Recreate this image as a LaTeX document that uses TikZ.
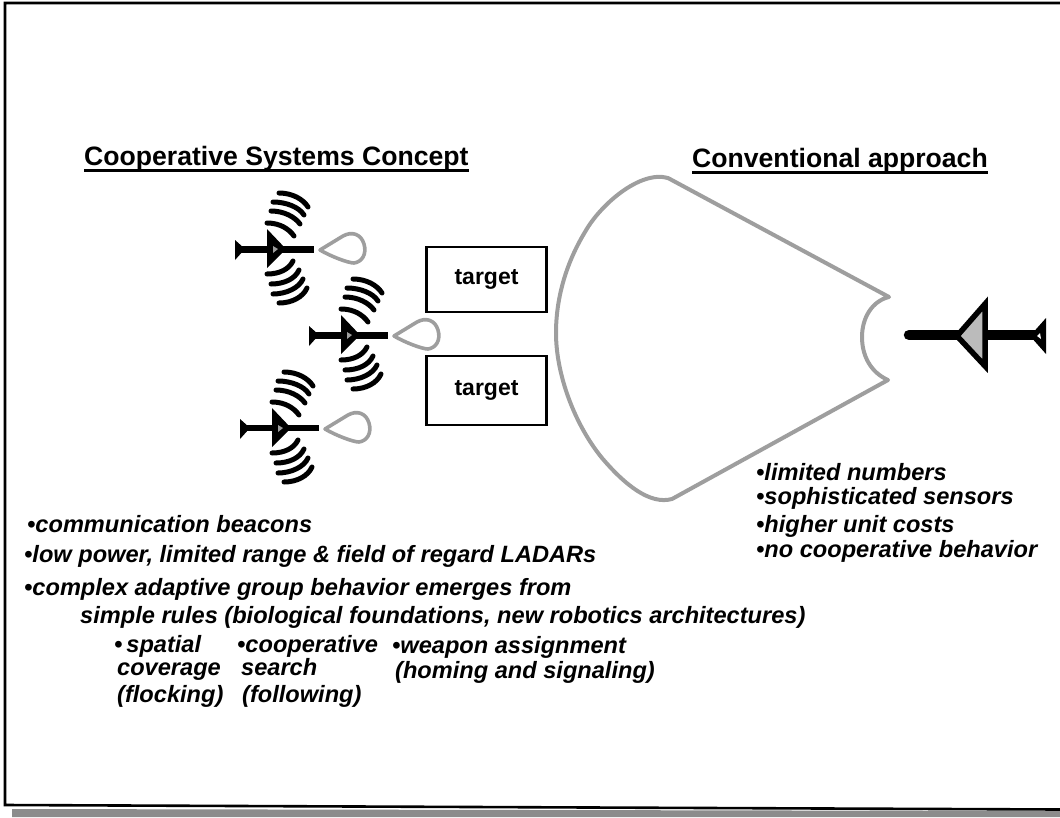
\documentclass[tikz,border=0pt]{standalone}
\usepackage{fontspec}
\setmainfont{Liberation Sans}
\definecolor{halftone}{gray}{0.62}
\definecolor{band}{gray}{0.55}
\tikzset{
  frameline/.style={line width=2.6pt,black},
  heading/.style={anchor=base west,inner sep=0pt,font=\fontsize{26.6}{30}\selectfont\bfseries},
  headrule/.style={line width=3pt,black},
  bullet/.style={anchor=base west,inner sep=0pt,font=\fontsize{23.6}{28}\selectfont\bfseries\itshape},
  targetbox/.style={draw=black,line width=2.8pt,fill=white,minimum width=120pt,inner sep=0pt,font=\fontsize{23}{26}\selectfont\bfseries},
  wave/.style={line width=5pt,black,line cap=round},
  lobe/.style={draw=halftone,line width=3.6pt,line join=round},
  biglobe/.style={draw=halftone,line width=4pt,line join=round},
}
\newcommand{\uav}[3]{%
  \begin{scope}[shift={(#1,#2)}]
    % tail fin and shaft
    \fill (-33,-9) -- (-24,-1) -- (-24,1) -- (-33,11) -- cycle;
    \draw[line width=#3,black] (-28,0) -- (46,0);
    % body
    \fill[black] (-1,-20) -- (18,0) -- (-1,19) -- cycle;
    \fill[halftone] (5,-3) -- (10,0) -- (5,4) -- cycle;
    % signal arcs above
    \draw[wave] (-1,-26) .. controls (12,-26) and (21,-20) .. (26,-13);
    \draw[wave] (3,-38) .. controls (16,-38) and (27,-32) .. (32,-25);
    \draw[wave] (5,-47) .. controls (18,-47) and (31,-42) .. (36,-34);
    \draw[wave] (11,-56) .. controls (24,-56) and (35,-50) .. (40,-42);
    % signal arcs below
    \draw[wave] (-1,25) .. controls (12,25) and (21,20) .. (25,12);
    \draw[wave] (3,35) .. controls (16,35) and (27,30) .. (31,21);
    \draw[wave] (5,45) .. controls (18,45) and (31,39) .. (35,30);
    \draw[wave] (11,54) .. controls (24,54) and (35,48) .. (39,39);
    % sensor footprint
    \draw[lobe] (52,1) -- (75,-13) .. controls (84,-18) and (93,-15) .. (96,-5)
      .. controls (99,5) and (94,13) .. (86,14) .. controls (80,14) and (62,7) .. (52,1) -- cycle;
  \end{scope}}
\begin{document}
\begin{tikzpicture}[x=1pt,y=-1pt]
\useasboundingbox (0,0) rectangle (1060,817);
% frame and shadow band
\fill[band] (12,809) -- (1060,811) -- (1060,817) -- (12,817) -- cycle;
\draw[frameline] (1060,3) -- (5,3) -- (5,805) -- (1060,809.5);
% headings
\node[heading] (h1) at (84,165) {Cooperative Systems Concept};
\node[heading] (h2) at (692,167) {Conventional approach};
\draw[headrule] (h1.south west) -- (h1.south east);
\draw[headrule] (h2.south west) -- (h2.south east);
% swarm
\uav{268}{249}{7pt}
\uav{342}{335}{7pt}
\uav{273}{428}{5.2pt}
% targets
\node[targetbox,minimum height=65pt] (t1) at (486.5,279.5) {target};
\node[targetbox,minimum height=69pt] (t2) at (486.5,390.5) {target};
% big sensor footprint
\draw[biglobe] (889,297) -- (668,178) .. controls (640,170) and (600,205) .. (585,232)
  .. controls (565,265) and (556,300) .. (556,333)
  .. controls (556,375) and (575,425) .. (602,458)
  .. controls (625,485) and (650,505) .. (672,499) -- (888,380)
  .. controls (870,372) and (862,355) .. (862,337)
  .. controls (862,318) and (872,301) .. (889,297) -- cycle;
% conventional platform
\draw[line width=10.5pt,black,line cap=round] (909,335) -- (960,335);
\draw[line width=10.5pt,black] (985,335) -- (1035,335);
\fill[black] (1046,318) -- (1046,354) -- (1030,336) -- cycle;
\fill[white] (1040,333) -- (1041,339) -- (1037,336) -- cycle;
\draw[black,line width=5.5pt,miter limit=10,fill=halftone!70] (985,304) -- (985,366) -- (957,336) -- cycle;
% left list
\node[bullet] (a1) at (27,532) {•communication beacons};
\node[bullet] (a2) at (24,562) {•low power, limited range \& field of regard LADARs};
\node[bullet] (a3) at (24,595) {•complex adaptive group behavior emerges from};
\node[bullet] (a4) at (80,623) {simple rules (biological foundations, new robotics architectures)};
\node[bullet] (b1) at (114,652) {•\,spatial};
\node[bullet] (b2) at (117,675) {coverage};
\node[bullet] (b3) at (117,702) {(flocking)};
\node[bullet] (c1) at (237,652) {•cooperative};
\node[bullet] (c2) at (241,675) {search};
\node[bullet] (c3) at (242,702) {(following)};
\node[bullet] (d1) at (392,653) {•weapon assignment};
\node[bullet] (d2) at (395,678) {(homing and signaling)};
% right list
\node[bullet] (r1) at (756,480) {•limited numbers};
\node[bullet] (r2) at (756,504) {•sophisticated sensors};
\node[bullet] (r3) at (756,532) {•higher unit costs};
\node[bullet] (r4) at (756,557) {•no cooperative behavior};
\end{tikzpicture}
\end{document}
